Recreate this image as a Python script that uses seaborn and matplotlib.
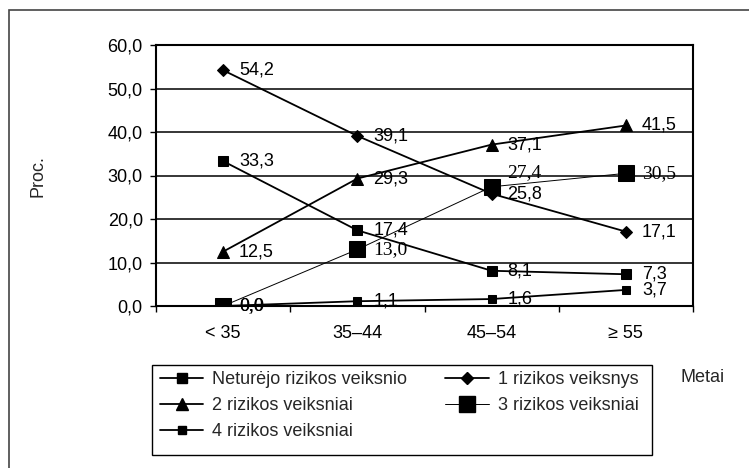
import numpy as np
import pandas as pd
import matplotlib
matplotlib.use("Agg")
import matplotlib.pyplot as plt
from matplotlib.lines import Line2D
from matplotlib.patches import Rectangle
import seaborn as sns

# data
age_groups = ["< 35", "35\u201344", "45\u201354", "\u2265 55"]
series_names = ["Neturėjo rizikos veiksnio", "1 rizikos veiksnys", "2 rizikos veiksniai",
                "3 rizikos veiksniai", "4 rizikos veiksniai"]
no_risk = [33.3, 17.4, 8.1, 7.3]
risk_1 = [54.2, 39.1, 25.8, 17.1]
risk_2 = [12.5, 29.3, 37.1, 41.5]
risk_3 = [0.0, 13.0, 27.4, 30.5]
risk_4 = [0.0, 1.1, 1.6, 3.7]
y_ticks = [0, 10, 20, 30, 40, 50, 60]

values = [no_risk, risk_1, risk_2, risk_3, risk_4]
df = pd.DataFrame({
    "Amžius": age_groups * len(series_names),
    "Proc": np.concatenate(values),
    "Grupė": np.repeat(series_names, len(age_groups)),
})

# marker / line style per series
styles = {
    "Neturėjo rizikos veiksnio": dict(marker="s", markersize=6.5, linewidth=1.3),
    "1 rizikos veiksnys": dict(marker="D", markersize=6.5, linewidth=1.3),
    "2 rizikos veiksniai": dict(marker="^", markersize=8, linewidth=1.3),
    "3 rizikos veiksniai": dict(marker="s", markersize=11, linewidth=0.7),
    "4 rizikos veiksniai": dict(marker="s", markersize=5.5, linewidth=1.3),
}

sns.set_theme(style="white")
plt.rcParams["font.family"] = ["Liberation Sans", "DejaVu Sans"]

W, H = 749, 468
fig = plt.figure(figsize=(W / 100, H / 100), dpi=100)
ax = fig.add_axes([156 / W, 1 - 306 / H, 537 / W, 261 / H])

for name in series_names:
    sub = df[df["Grupė"] == name]
    sns.lineplot(data=sub, x="Amžius", y="Proc", ax=ax, sort=False, color="black",
                 markeredgecolor="black", markerfacecolor="black", errorbar=None,
                 legend=False, **styles[name])

# data labels
for name, vals in zip(series_names, values):
    serif = name == "3 rizikos veiksniai"
    for i, v in enumerate(vals):
        dy = 14 if (serif and i == 2) else 0
        ax.annotate(f"{v:.1f}".replace(".", ","), (i, v), xytext=(16, dy),
                    textcoords="offset pixels", ha="left", va="center",
                    fontsize=14 if serif else 13, color="black",
                    family=["Liberation Serif"] if serif else ["Liberation Sans"],
                    annotation_clip=False)

ax.set_xlim(-0.5, 3.5)
ax.set_ylim(0, 60)
ax.set_yticks(y_ticks)
ax.set_yticklabels([f"{t:.1f}".replace(".", ",") for t in y_ticks])
ax.set_xticks(range(len(age_groups)))
ax.set_xticklabels(age_groups)
ax.set_xticks(np.arange(-0.5, 4, 1), minor=True)
ax.tick_params(axis="x", which="major", length=0, pad=14, labelsize=13, colors="black")
ax.tick_params(axis="x", which="minor", length=4.5, width=1, direction="out", color="black", bottom=True)
ax.tick_params(axis="y", length=4.5, width=1, direction="out", pad=5, labelsize=13,
               colors="black", left=True)
ax.set_xlabel("")
ax.set_ylabel("")
ax.grid(axis="y", color="black", linewidth=1.1)
ax.grid(axis="x", visible=False)
for sp in ax.spines.values():
    sp.set_color("black")
    sp.set_linewidth(1.5)
ax.set_axisbelow(True)

fig.text(38 / W, 1 - 176 / H, "Proc.", rotation=90, ha="center", va="center", fontsize=13)
fig.text(703 / W, 1 - 377 / H, "Metai", ha="center", va="center", fontsize=13)

# legend
order = [0, 2, 4, 1, 3]
handles = [Line2D([], [], color="black", markerfacecolor="black", markeredgecolor="black",
                  **styles[series_names[k]]) for k in order]
fig.legend(handles, [series_names[k] for k in order], ncol=2, loc="upper left",
           bbox_to_anchor=(160 / W, 1 - 371 / H), frameon=False, borderpad=0,
           borderaxespad=0, handlelength=2.4, handletextpad=0.5, columnspacing=2.1,
           labelspacing=0.5, fontsize=13)
fig.add_artist(Rectangle((152 / W, 1 - 455 / H), 500 / W, 90 / H, transform=fig.transFigure,
                         fill=False, edgecolor="black", linewidth=1))

# outer chart frame (cut by the image edges on the right and bottom)
fig.add_artist(Rectangle((9 / W, -0.1), 1.2, 1.1 - 10 / H, transform=fig.transFigure,
                         fill=False, edgecolor="#444444", linewidth=1.2))

fig.savefig("out.png", dpi=100)
